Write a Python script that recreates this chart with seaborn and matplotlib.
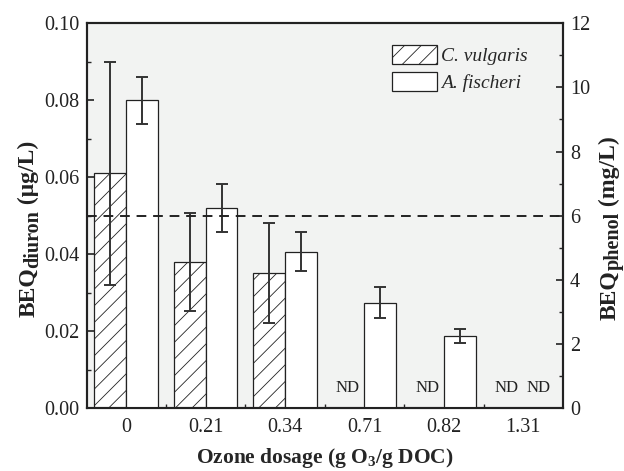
import numpy as np
import pandas as pd
import matplotlib
matplotlib.use("Agg")
import matplotlib.pyplot as plt
import seaborn as sns
from matplotlib.ticker import MultipleLocator, FixedLocator
from matplotlib.patches import Patch

# ---------------- data ----------------
dosages = ["0", "0.21", "0.34", "0.71", "0.82", "1.31"]
species = ["C. vulgaris", "A. fischeri"]
cv_mean = [0.061, 0.038, 0.035, np.nan, np.nan, np.nan]      # BEQdiuron (µg/L)
cv_err = [0.029, 0.0128, 0.013, np.nan, np.nan, np.nan]
af_mean = [9.6, 6.25, 4.88, 3.29, 2.25, np.nan]               # BEQphenol (mg/L)
af_err = [0.74, 0.75, 0.60, 0.47, 0.22, np.nan]
cv_nd = [False, False, False, True, True, True]
af_nd = [False, False, False, False, False, True]
threshold_phenol = 6.0
left_ticks = [0.00, 0.02, 0.04, 0.06, 0.08, 0.10]
right_ticks = [0, 2, 4, 6, 8, 10, 12]

# ---------------- style ----------------
sns.set_style("ticks")
plt.rcParams["font.family"] = ["Liberation Serif", "DejaVu Serif"]
plt.rcParams["mathtext.fontset"] = "custom"
plt.rcParams["mathtext.rm"] = "Liberation Serif"
plt.rcParams["mathtext.bf"] = "Liberation Serif:bold"
plt.rcParams["mathtext.it"] = "Liberation Serif:italic"
plt.rcParams["hatch.linewidth"] = 0.6
plt.rcParams["hatch.color"] = "#333333"

W, H = 624, 471
fig = plt.figure(figsize=(W / 100, H / 100), dpi=100)
ax = fig.add_axes([86.5 / W, 1 - 408 / H, (563 - 86.5) / W, (408 - 23.3) / H])
ax.set_facecolor("#f2f3f2")
ax2 = ax.twinx()
ax2.patch.set_visible(False)

df_cv = pd.DataFrame({"dosage": dosages, "species": species[0], "value": cv_mean}).dropna()
df_af = pd.DataFrame({"dosage": dosages, "species": species[1], "value": af_mean}).dropna()
pal = {species[0]: "white", species[1]: "white"}

sns.barplot(data=df_cv, x="dosage", y="value", hue="species", order=dosages,
            hue_order=species, palette=pal, saturation=1, errorbar=None,
            edgecolor="#222222", linewidth=0.9, width=0.8, dodge=True,
            legend=False, ax=ax, zorder=2)
sns.barplot(data=df_af, x="dosage", y="value", hue="species", order=dosages,
            hue_order=species, palette=pal, saturation=1, errorbar=None,
            edgecolor="#222222", linewidth=0.9, width=0.8, dodge=True,
            legend=False, ax=ax2, zorder=2)

for p in ax.patches:
    p.set_hatch("//")

def add_err(axis, means, errs):
    xs = [p.get_x() + p.get_width() / 2 for p in axis.patches if p.get_height() > 0]
    ys = [m for m in means if not np.isnan(m)]
    es = [e for e in errs if not np.isnan(e)]
    axis.errorbar(xs, ys, yerr=es, fmt="none", ecolor="#333333",
                  elinewidth=1.4, capsize=4.5, capthick=1.4, zorder=5)

add_err(ax, cv_mean, cv_err)
add_err(ax2, af_mean, af_err)

# ND labels
for i, d in enumerate(dosages):
    if cv_nd[i]:
        ax.text(i - 0.21, 0.003, "ND", ha="center", va="bottom", fontsize=12, color="#222222")
    if af_nd[i]:
        ax.text(i + 0.19, 0.003, "ND", ha="center", va="bottom", fontsize=12, color="#222222")

# threshold dashed line
ax2.axhline(threshold_phenol, color="#222222", lw=1.4, ls=(0, (5, 3.5)), zorder=6)

# axes limits and ticks
ax.set_xlim(-0.5, len(dosages) - 0.5)
ax.set_ylim(0, 0.10)
ax2.set_ylim(0, 12)
ax.yaxis.set_major_locator(FixedLocator(left_ticks))
ax.yaxis.set_minor_locator(MultipleLocator(0.01))
ax2.yaxis.set_major_locator(FixedLocator(right_ticks))
ax2.yaxis.set_minor_locator(MultipleLocator(1))
ax.set_yticklabels([f"{t:.2f}" for t in left_ticks])
ax2.set_yticklabels([str(t) for t in right_ticks])
ax.xaxis.set_minor_locator(FixedLocator(np.arange(0.5, len(dosages) - 1, 1.0)))

TS = 14.5
ax.tick_params(axis="y", which="major", direction="in", length=5, width=1.2, labelsize=TS, pad=5, colors="#222222")
ax.tick_params(axis="y", which="minor", direction="in", length=3, width=1.0)
ax2.tick_params(axis="y", which="major", direction="in", length=5, width=1.2, labelsize=TS, pad=5, colors="#222222")
ax2.tick_params(axis="y", which="minor", direction="in", length=3, width=1.0)
ax.tick_params(axis="x", which="major", length=0, labelsize=TS, pad=7, colors="#222222")
ax.tick_params(axis="x", which="minor", direction="in", length=3, width=1.0)

for a in (ax, ax2):
    for s in a.spines.values():
        s.set_visible(True)
        s.set_linewidth(1.5)
        s.set_color("#222222")

ax.set_xlabel(r"Ozone dosage (g O$_\mathbf{3}$/g DOC)", fontsize=15.5, fontweight="bold", labelpad=6.5)
ax.set_ylabel("")
ax2.set_ylabel("")

# y labels with large subscripts, built from pieces (rotated 90 deg)
renderer = fig.canvas.get_renderer()

def stacked_label(x_px, yc_px, pieces):
    lens = []
    for txt, size, shift in pieces:
        t = fig.text(0, 0, txt, fontsize=size, fontweight="bold")
        lens.append(t.get_window_extent(renderer).width)
        t.remove()
    total = sum(lens)
    y = (H - yc_px) - total / 2
    for (txt, size, shift), L in zip(pieces, lens):
        fig.text((x_px + shift) / W, y / H, txt, fontsize=size, fontweight="bold",
                 rotation=90, rotation_mode="anchor", ha="left", va="baseline",
                 color="#222222")
        y += L

stacked_label(34, 229, [("BEQ", 17, 0), ("diuron", 14.5, 4), (" (μg/L)", 17, 0)])
stacked_label(615, 228, [("BEQ", 17, 0), ("phenol", 14.5, 4), (" (mg/L)", 17, 0)])

handles = [Patch(facecolor="white", edgecolor="#222222", hatch="//", linewidth=0.9),
           Patch(facecolor="white", edgecolor="#222222", linewidth=0.9)]
leg = ax2.legend(handles, species, loc="upper left", bbox_to_anchor=(0.604, 0.99),
                 frameon=False, handlelength=2.3, handleheight=1.15, handletextpad=0.25,
                 labelspacing=0.35, prop={"family": "Liberation Serif", "style": "italic", "size": 14})

fig.savefig("out.png", dpi=100)
